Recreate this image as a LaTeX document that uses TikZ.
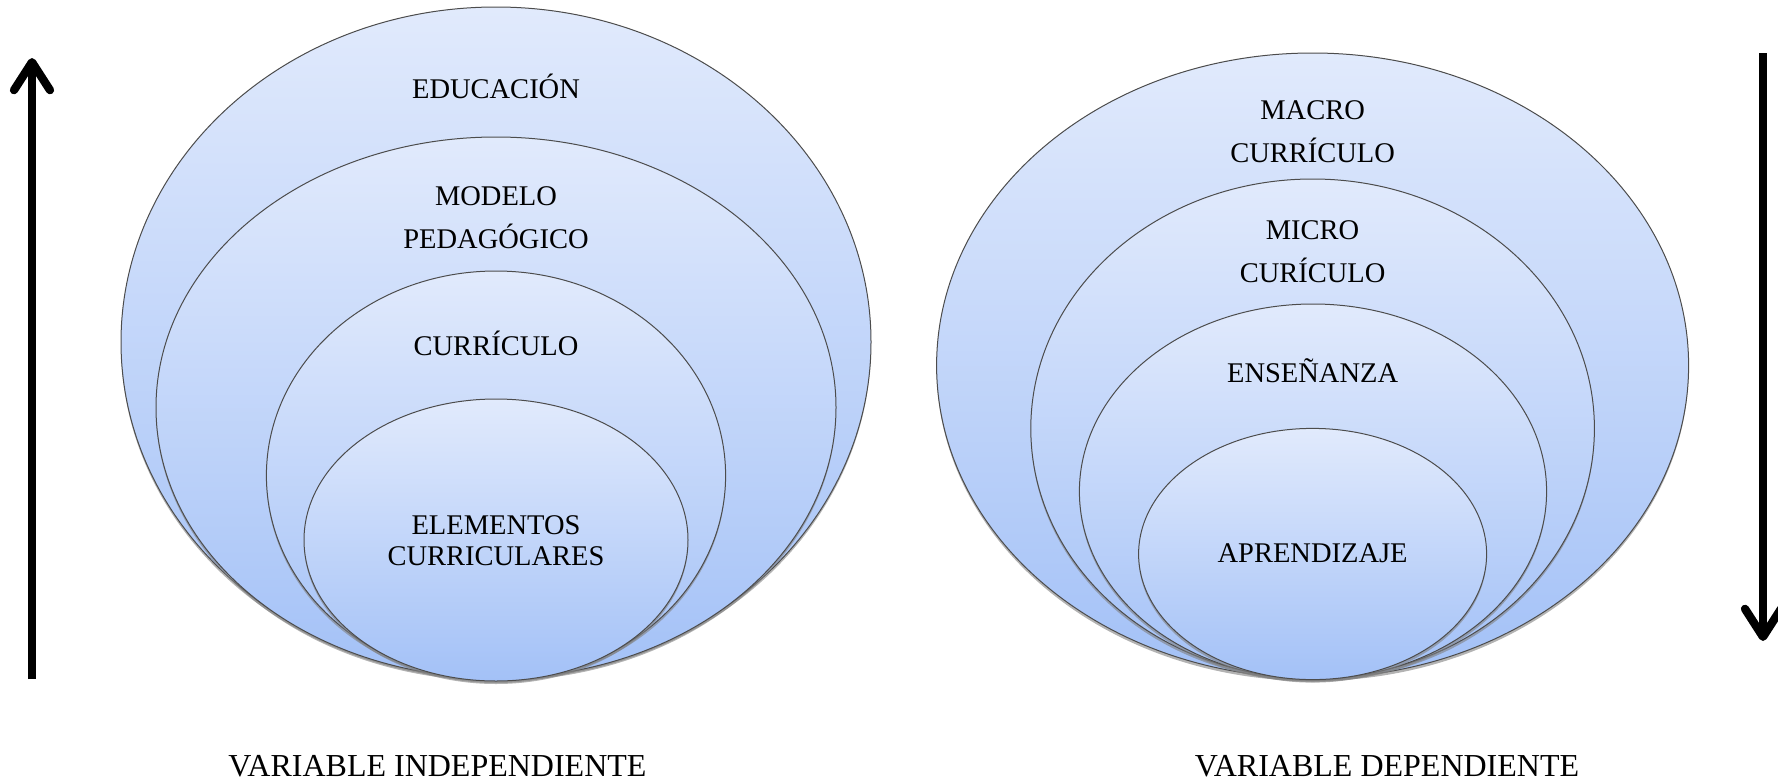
\documentclass[tikz,border=0pt]{standalone}
\usepackage{fontspec}
\setmainfont{Liberation Serif}
\usetikzlibrary{shapes.geometric}
\usetikzlibrary{shadows}
\usetikzlibrary{arrows.meta}
\definecolor{azulclaro}{HTML}{E1EAFC}
\definecolor{azuloscuro}{HTML}{A3C1F7}
\tikzset{
  capa/.style={ellipse, draw=black!70, line width=0.5pt, inner sep=0pt, outer sep=0pt,
    top color=azulclaro, bottom color=azuloscuro,
    drop shadow={shadow xshift=0pt, shadow yshift=-1.5pt, opacity=0.6}},
  texto/.style={anchor=base, align=center, inner sep=0pt, font=\fontsize{14.25}{21.5}\selectfont},
  etiqueta/.style={anchor=base, inner sep=0pt, font=\fontsize{16}{19}\selectfont},
  flecha/.style={line width=4.15pt, -{Straight Barb[length=14pt,width=18pt,round]}}
}
\begin{document}
\begin{tikzpicture}[x=0.5pt, y=-0.5pt]
              \useasboundingbox (0, 0) rectangle (1778, 782);
              \newcommand{\ovalo}[4]
              {%
                \node[capa, minimum width=#3pt, minimum height=#4pt] (#1) at #2 {};%
              }%
              \ovalo{educacion}{(496, 342)}{375}{335}
              \ovalo{modelo}{(496, 407.5)}{340}{270.5}
              \ovalo{curriculo}{(496, 475.5)}{229.6}{204.5}
              \ovalo{elementos}{(496, 540)}{192}{141}
              \ovalo{macro}{(1312.6, 365.5)}{376}{312.5}
              \ovalo{micro}{(1312.6, 428.5)}{281.8}{249.5}
              \ovalo{ensenanza}{(1313, 491.5)}{233.6}{187.5}
              \ovalo{aprendizaje}{(1312.6, 554)}{174}{125.6}
              \node[texto] (tEducacion) at (496, 98) {EDUCACIÓN};
              \node[texto] (tModelo) at (496, 248.5) {MODELO\\PEDAGÓGICO};
              \node[texto] (tCurriculo) at (496, 355.5) {CURRÍCULO};
              \node[texto, font=\fontsize{14.25}{15.5}\selectfont] (tElementos) at (496, 565) {ELEMENTOS\\CURRICULARES};
              \node[texto] (tMacro) at (1312.6, 162.5) {MACRO\\CURRÍCULO};
              \node[texto] (tMicro) at (1312.6, 282.5) {MICRO\\CURÍCULO};
              \node[texto] (tEnsenanza) at (1312.6, 382.5) {ENSEÑANZA};
              \node[texto] (tAprendizaje) at (1312.6, 562.5) {APRENDIZAJE};
              \node[etiqueta] (vIndependiente) at (437.5, 776) {VARIABLE INDEPENDIENTE};
              \node[etiqueta] (vDependiente) at (1387, 776) {VARIABLE DEPENDIENTE};
              \coordinate (subeA) at (32, 679);
              \coordinate (subeB) at (32, 58);
              \coordinate (bajaA) at (1763, 53);
              \coordinate (bajaB) at (1763, 641);
              \draw[flecha] (subeA) -- (subeB);
              \draw[flecha] (bajaA) -- (bajaB);
            \end{tikzpicture}
\end{document}
